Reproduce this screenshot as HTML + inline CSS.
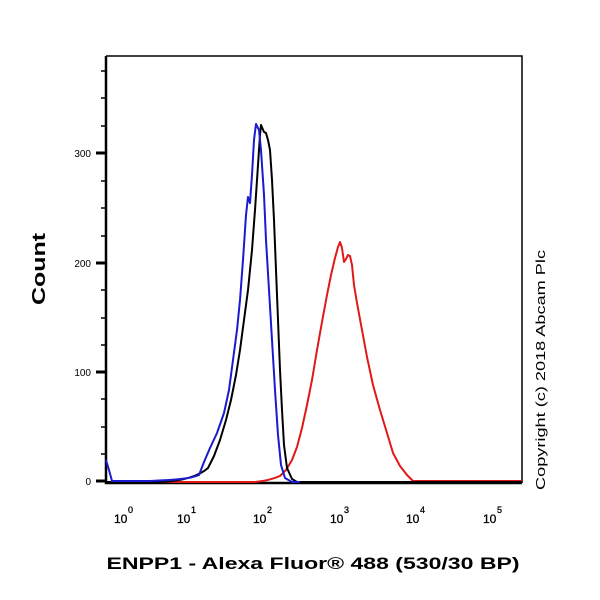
<!DOCTYPE html>
<html><head><style>body{margin:0;background:#fff}svg{display:block}</style></head><body>
<svg width="600" height="600" viewBox="0 0 600 600" xmlns="http://www.w3.org/2000/svg" font-family="Liberation Sans, sans-serif">
<rect width="600" height="600" fill="#fff"/>
<path d="M106 56 H522 V483" fill="none" stroke="#000" stroke-width="1.5"/>
<path d="M106 56 V483 H522" fill="none" stroke="#000" stroke-width="2.5"/>
<g stroke="#000" stroke-width="1.5">
<line x1="101" y1="454" x2="106" y2="454"/><line x1="101" y1="427" x2="106" y2="427"/><line x1="101" y1="399" x2="106" y2="399"/>
<line x1="101" y1="345" x2="106" y2="345"/><line x1="101" y1="318" x2="106" y2="318"/><line x1="101" y1="290" x2="106" y2="290"/>
<line x1="101" y1="236" x2="106" y2="236"/><line x1="101" y1="208" x2="106" y2="208"/><line x1="101" y1="181" x2="106" y2="181"/>
<line x1="101" y1="126" x2="106" y2="126"/><line x1="101" y1="98" x2="106" y2="98"/><line x1="101" y1="71" x2="106" y2="71"/>
</g>
<g stroke="#000" stroke-width="3">
<line x1="96" y1="481" x2="106" y2="481"/><line x1="96" y1="372" x2="106" y2="372"/><line x1="96" y1="263" x2="106" y2="263"/><line x1="96" y1="153" x2="106" y2="153"/>
</g>
<g font-size="10" text-anchor="end" fill="#000">
<text x="91" y="485">0</text><text x="91" y="376">100</text><text x="91" y="267">200</text><text x="91" y="157">300</text>
</g>
<g stroke="#000" stroke-width="1.5" id="xt"></g>
<script>
(function(){var g=document.getElementById('xt'),s='';var x0=103.5,d=76.6;
for(var k=0;k<6;k++){for(var m=1;m<10;m++){var x=x0+d*(k+Math.log10(m));if(x<106||x>520)continue;
var big=m==1;s+='<line x1="'+x+'" y1="483" x2="'+x+'" y2="'+(big?494:489)+'" stroke-width="'+(big?3:1.5)+'"/>';}}
s+='<line x1="107" y1="483" x2="107" y2="494" stroke-width="3"/>';
g.innerHTML=s;})();
</script>
<g font-size="12" fill="#000" stroke="#000" stroke-width="0.3">
<text x="114" y="523">10</text><text x="128" y="513" font-size="9">0</text>
<text x="177" y="523">10</text><text x="191" y="513" font-size="9">1</text>
<text x="253" y="523">10</text><text x="267" y="513" font-size="9">2</text>
<text x="330" y="523">10</text><text x="344" y="513" font-size="9">3</text>
<text x="406" y="523">10</text><text x="420" y="513" font-size="9">4</text>
<text x="483" y="523">10</text><text x="497" y="513" font-size="9">5</text>
</g>
<g fill="none" stroke-width="2" stroke-linejoin="round">
<path d="M106 482 H255 C266 481 273 479 280 476 L286 470 292 460 297 447 302 428 307 405 312 380 317 350 322 322 327 295 331 275 335 258 338 247 340 242 342 248 344 262 346 259 348 255 350 256 352 265 354 285 357 303 362 330 367 357 373 385 380 410 387 433 393 453 400 466 407 475 413 481 H522" stroke="#e01818"/>
<path d="M106 482 H160 C182 481 198 477 208 468 L214 456 220 440 226 420 231 400 236 375 240 350 244 320 248 290 252 250 255 210 258 165 260 135 261 125 264 132 266 133 268 140 270 150 272 180 274 220 276 270 278 320 280 370 282 410 284 445 287 468 292 479 297 482 H522" stroke="#000"/>
<path d="M106 460 L109 470 112 481 H150 C172 480 190 479 199 475 L204 462 210 448 217 433 224 413 229 390 233 360 237 330 240 300 243 260 246 215 248 197 250 203 252 175 254 140 256 124 259 130 261 150 264 195 266 240 269 290 272 340 275 390 278 435 281 465 285 478 292 482 H300" stroke="#1a1ad0"/>
</g>
<text transform="translate(45,269) rotate(-90)" font-size="18" font-weight="bold" text-anchor="middle" textLength="72" lengthAdjust="spacingAndGlyphs">Count</text>
<text transform="translate(545,370) rotate(-90)" font-size="13" text-anchor="middle" textLength="240" lengthAdjust="spacingAndGlyphs">Copyright (c) 2018 Abcam Plc</text>
<text x="313" y="569" font-size="17" font-weight="bold" text-anchor="middle" textLength="413" lengthAdjust="spacingAndGlyphs">ENPP1 - Alexa Fluor® 488 (530/30 BP)</text>
</svg>
</body></html>
